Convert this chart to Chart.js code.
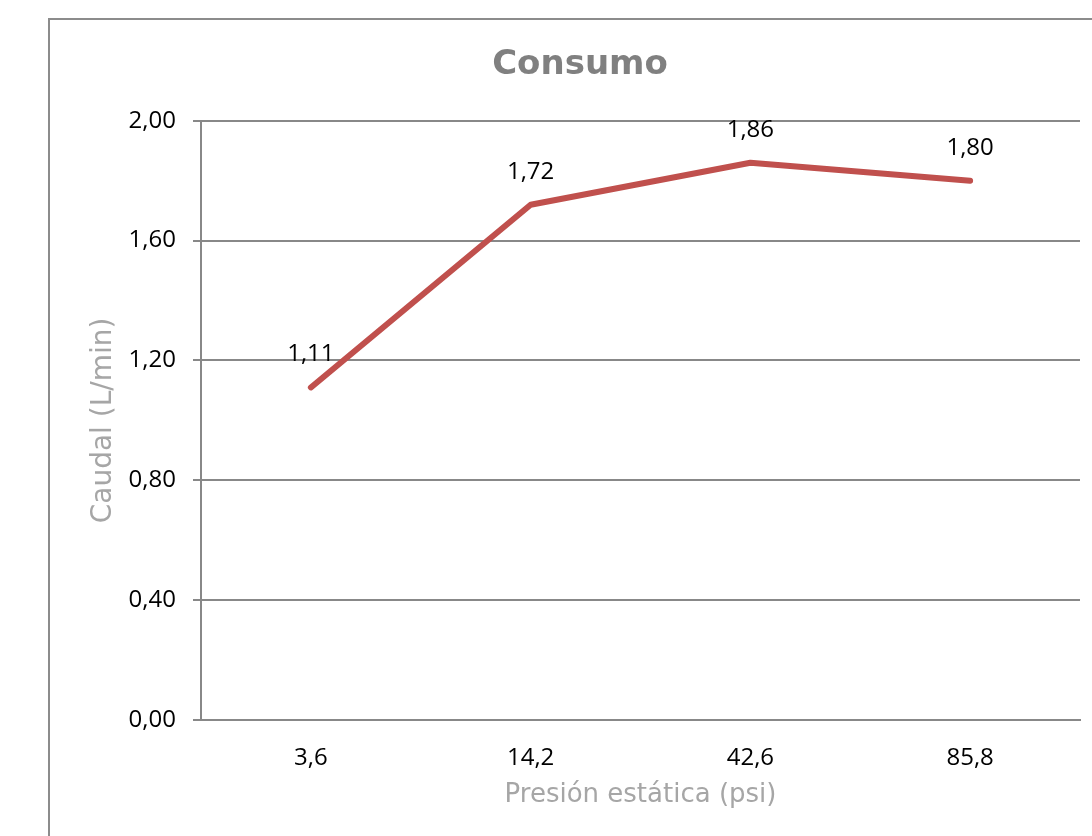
<!DOCTYPE html>
<html>
<head>
<meta charset="utf-8">
<script src="https://cdn.jsdelivr.net/npm/chart.js@4"></script>
<style>
  html, body { margin: 0; padding: 0; background: #fff; overflow: hidden; }
  #frame { position: absolute; left: 48px; top: 18px; width: 1200px; height: 1000px; border: 2px solid #8c8c8c; box-sizing: border-box; }
  #c { position: absolute; left: 0; top: 0; }
</style>
</head>
<body>
<div id="frame"></div>
<canvas id="c" width="1092" height="836"></canvas>
<script>
const chartTitle = 'Consumo';
const xAxisTitle = 'Presión estática (psi)';
const yAxisTitle = 'Caudal (L/min)';
const categories = ['3,6', '14,2', '42,6', '85,8'];
const caudal = [1.11, 1.72, 1.86, 1.80];
const yMin = 0, yMax = 2, yStep = 0.4;

const tickFont = { family: '"Open Sans", sans-serif', size: 24 };
const gridColor = '#888888';

const dataLabels = {
  id: 'dataLabels',
  afterDatasetsDraw(chart) {
    const ctx = chart.ctx;
    ctx.save();
    ctx.font = '24px "Open Sans", sans-serif';
    ctx.fillStyle = '#000';
    ctx.textAlign = 'center';
    ctx.textBaseline = 'middle';
    chart.data.datasets.forEach((ds, i) => {
      chart.getDatasetMeta(i).data.forEach((pt, j) => {
        const v = ds.data[j];
        ctx.fillText(v.toFixed(2).replace('.', ','), pt.x, pt.y - 33);
      });
    });
    ctx.restore();
  }
};

new Chart(document.getElementById('c'), {
  type: 'line',
  data: {
    labels: categories,
    datasets: [{
      data: caudal,
      borderColor: '#C0504D',
      backgroundColor: '#C0504D',
      borderWidth: 6,
      borderCapStyle: 'round',
      borderJoinStyle: 'round',
      pointRadius: 0,
      tension: 0
    }]
  },
  options: {
    responsive: false,
    animation: false,
    devicePixelRatio: 1,
    layout: { padding: { left: 80, right: 12, top: 0, bottom: 0 } },
    plugins: {
      legend: { display: false },
      tooltip: { enabled: false },
      title: {
        display: true,
        text: chartTitle,
        color: '#808080',
        font: { family: '"DejaVu Sans", sans-serif', size: 34, weight: 'bold' },
        padding: { top: 45, bottom: 35 }
      }
    },
    scales: {
      x: {
        offset: true,
        grid: { display: false, drawTicks: false },
        border: { display: true, color: gridColor, width: 2 },
        ticks: { color: '#000', font: tickFont, padding: 24 },
        title: {
          display: true,
          text: xAxisTitle,
          color: '#a6a6a6',
          font: { family: '"DejaVu Sans", sans-serif', size: 26 },
          padding: { top: 0, bottom: 25 }
        },
        afterFit(scale) { scale.height = 116; }
      },
      y: {
        min: yMin,
        max: yMax,
        ticks: {
          stepSize: yStep,
          color: '#000',
          font: tickFont,
          padding: 17,
          callback: (v) => Number(v).toFixed(2).replace('.', ',')
        },
        grid: { color: gridColor, lineWidth: 2, tickLength: 8, drawTicks: true },
        border: { display: true, color: gridColor, width: 2 },
        title: {
          display: true,
          text: yAxisTitle,
          color: '#a6a6a6',
          font: { family: '"DejaVu Sans", sans-serif', size: 28 },
          padding: { top: 7, bottom: 0 }
        },
        afterFit(scale) { scale.width = 121; }
      }
    }
  },
  plugins: [dataLabels]
});
</script>
</body>
</html>
